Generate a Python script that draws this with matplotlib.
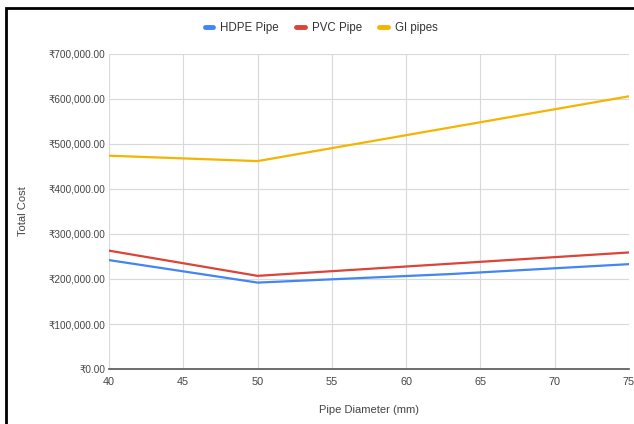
import matplotlib
matplotlib.use("Agg")
import matplotlib.pyplot as plt
from matplotlib.ticker import FuncFormatter
from matplotlib.patches import Rectangle

plt.rcParams['font.family'] = ['Liberation Sans', 'DejaVu Sans']

diameters = [40, 50, 63, 75]
hdpe = [242000, 192000, 211000, 233000]
pvc = [263000, 207000, 234000, 259000]
gi_diameters = [40, 50, 75]
gi = [474000, 462000, 606000]

series_names = ["HDPE Pipe", "PVC Pipe", "GI pipes"]
colors = ["#4285F4", "#DB4437", "#F4B400"]

fig = plt.figure(figsize=(6.34, 4.24), dpi=100)
ax = fig.add_axes([109/634, 1-369/424, 520/634, 315/424])

ax.plot(diameters, hdpe, color=colors[0], lw=1.6, label=series_names[0], solid_capstyle='round')
ax.plot(diameters, pvc, color=colors[1], lw=1.6, label=series_names[1], solid_capstyle='round')
ax.plot(gi_diameters, gi, color=colors[2], lw=1.6, label=series_names[2], solid_capstyle='round')

ax.set_xlim(40, 75)
ax.set_ylim(0, 700000)
ax.set_xticks(range(40, 76, 5))
ax.set_yticks(range(0, 700001, 100000))
ax.yaxis.set_major_formatter(FuncFormatter(lambda v, p: "₹{:,.2f}".format(v)))
ax.grid(True, color="#d9d9d9", lw=0.8)
ax.set_axisbelow(True)
for s in ["top", "right", "left"]:
    ax.spines[s].set_visible(False)
ax.spines["bottom"].set_color("#555555")
ax.spines["bottom"].set_linewidth(1.2)
ax.tick_params(length=0, colors="#444444")
ax.tick_params(axis='y', pad=2.5, labelsize=7.2)
ax.tick_params(axis='x', pad=6, labelsize=7.8)
ax.set_xlabel("Pipe Diameter (mm)", fontsize=8, color="#444444", labelpad=13)
ax.set_ylabel("Total Cost", fontsize=8, color="#444444", labelpad=15)

leg = fig.legend(loc="center", bbox_to_anchor=(321/634, 1-28/424), ncol=3, frameon=False,
                 fontsize=8.3, handlelength=0.75, columnspacing=1.5, handletextpad=0.6)
for h in leg.legend_handles:
    h.set_linewidth(3.5)
for t in leg.get_texts():
    t.set_color("#333333")

fig.patches.append(Rectangle((6/634, -0.1), 1.2, 1-8/424+0.1, transform=fig.transFigure,
                             fill=False, edgecolor="black", lw=2))

fig.savefig("out.png", dpi=100)
